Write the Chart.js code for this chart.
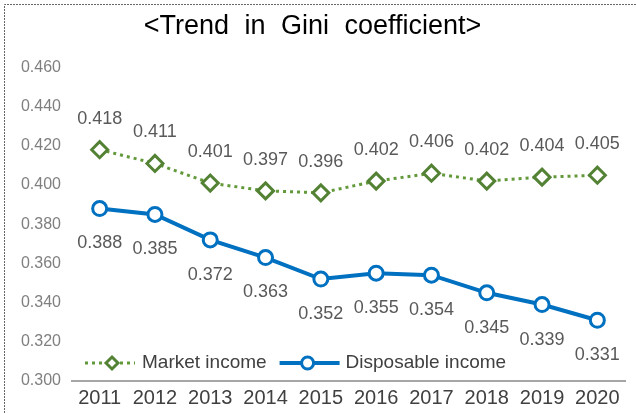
<!DOCTYPE html>
<html>
<head>
<meta charset="utf-8">
<script src="https://cdn.jsdelivr.net/npm/chart.js@4"></script>
<style>
  html, body { margin: 0; padding: 0; background: #fff; }
  #wrap { position: relative; width: 636px; height: 413px; }
</style>
</head>
<body>
<div id="wrap"><canvas id="gini" width="636" height="413"></canvas></div>
<script>
// ----- data -----
const years = ['2011', '2012', '2013', '2014', '2015', '2016', '2017', '2018', '2019', '2020'];
const marketIncome = [0.418, 0.411, 0.401, 0.397, 0.396, 0.402, 0.406, 0.402, 0.404, 0.405];
const disposableIncome = [0.388, 0.385, 0.372, 0.363, 0.352, 0.355, 0.354, 0.345, 0.339, 0.331];
const seriesNames = ['Market income', 'Disposable income'];
const yMin = 0.300, yMax = 0.460, yStep = 0.020;
const chartTitle = '<Trend in Gini coefficient>';

const GREEN = '#548235';
const GREEN_LINE = '#62993A';
const BLUE = '#0070C0';
const FONT = "'Liberation Sans', Arial, sans-serif";
const DOTS = [3, 4];

// dotted frame around the picture (top and left edges)
const framePlugin = {
    id: 'frame',
    beforeDraw(chart) {
        const ctx = chart.ctx;
        ctx.save();
        ctx.strokeStyle = '#666';
        ctx.lineWidth = 1;
        ctx.setLineDash([2, 1]);
        ctx.beginPath();
        ctx.moveTo(4.5, chart.height);
        ctx.lineTo(4.5, 4.5);
        ctx.lineTo(chart.width, 4.5);
        ctx.stroke();
        ctx.restore();
        // wide gaps between words in the title
        ctx.wordSpacing = '8px';
    },
    afterDraw(chart) {
        chart.ctx.wordSpacing = '0px';
    }
};

// value labels: above the market line, below the disposable line
const valueLabels = {
    id: 'valueLabels',
    afterDatasetsDraw(chart) {
        const ctx = chart.ctx;
        ctx.save();
        ctx.wordSpacing = '0px';
        ctx.font = '18px ' + FONT;
        ctx.fillStyle = '#595959';
        ctx.textAlign = 'center';
        ctx.textBaseline = 'middle';
        chart.data.datasets.forEach((ds, i) => {
            const meta = chart.getDatasetMeta(i);
            const dy = i === 0 ? -31 : 35;
            meta.data.forEach((pt, j) => {
                ctx.fillText(ds.data[j].toFixed(3), pt.x, pt.y + dy);
            });
        });
        ctx.restore();
    }
};

// legend drawn inside the plot area, line + marker style
const insideLegend = {
    id: 'insideLegend',
    afterDraw(chart) {
        const ctx = chart.ctx;
        const area = chart.chartArea;
        const y = area.bottom - 18;
        ctx.save();
        ctx.wordSpacing = '0px';
        ctx.font = '19px ' + FONT;
        ctx.textBaseline = 'middle';

        // market income
        let x = area.left + 13;
        ctx.strokeStyle = GREEN_LINE;
        ctx.lineWidth = 3;
        ctx.setLineDash(DOTS);
        ctx.beginPath();
        ctx.moveTo(x, y);
        ctx.lineTo(x + 50, y);
        ctx.stroke();
        ctx.setLineDash([]);
        drawDiamond(ctx, x + 27, y, 6);
        ctx.fillStyle = '#404040';
        ctx.fillText(seriesNames[0], x + 57, y);

        // disposable income
        x = x + 57 + ctx.measureText(seriesNames[0]).width + 13;
        ctx.strokeStyle = BLUE;
        ctx.lineWidth = 4;
        ctx.beginPath();
        ctx.moveTo(x, y);
        ctx.lineTo(x + 60, y);
        ctx.stroke();
        ctx.beginPath();
        ctx.arc(x + 28, y, 6, 0, Math.PI * 2);
        ctx.fillStyle = '#fff';
        ctx.fill();
        ctx.lineWidth = 3;
        ctx.stroke();
        ctx.fillStyle = '#404040';
        ctx.fillText(seriesNames[1], x + 66, y);
        ctx.restore();
    }
};

function drawDiamond(ctx, cx, cy, r) {
    ctx.beginPath();
    ctx.moveTo(cx, cy - r);
    ctx.lineTo(cx + r, cy);
    ctx.lineTo(cx, cy + r);
    ctx.lineTo(cx - r, cy);
    ctx.closePath();
    ctx.fillStyle = '#fff';
    ctx.fill();
    ctx.strokeStyle = GREEN;
    ctx.lineWidth = 3;
    ctx.stroke();
}

const ctx = document.getElementById('gini');

new Chart(ctx, {
    type: 'line',
    data: {
        labels: years,
        datasets: [
            {
                label: seriesNames[0],
                data: marketIncome,
                borderColor: GREEN_LINE,
                borderWidth: 3,
                borderDash: DOTS,
                pointStyle: 'rectRot',
                pointRadius: 8,
                pointBorderWidth: 3,
                pointBorderColor: GREEN,
                pointBackgroundColor: '#fff',
                tension: 0
            },
            {
                label: seriesNames[1],
                data: disposableIncome,
                borderColor: BLUE,
                borderWidth: 4,
                pointStyle: 'circle',
                pointRadius: 7,
                pointBorderWidth: 3,
                pointBorderColor: BLUE,
                pointBackgroundColor: '#fff',
                tension: 0
            }
        ]
    },
    options: {
        responsive: false,
        animation: false,
        devicePixelRatio: 1,
        layout: {
            padding: { left: 0, right: 11, top: 0, bottom: 0 }
        },
        plugins: {
            legend: { display: false },
            tooltip: { enabled: false },
            title: {
                display: true,
                text: chartTitle,
                color: '#000',
                font: { family: FONT, size: 27, weight: 'normal', lineHeight: 1.2 },
                padding: { top: 10, bottom: 25 }
            }
        },
        scales: {
            x: {
                offset: true,
                grid: { display: false, drawTicks: false },
                border: { display: true, color: '#A6A6A6', width: 2 },
                ticks: {
                    color: '#404040',
                    font: { family: FONT, size: 20 },
                    padding: 5,
                    maxRotation: 0,
                    autoSkip: false
                },
                afterFit(scale) { scale.height = 32; }
            },
            y: {
                min: yMin,
                max: yMax,
                grid: { display: false, drawTicks: false },
                border: { display: false },
                ticks: {
                    stepSize: yStep,
                    color: '#7F7F7F',
                    font: { family: FONT, size: 16 },
                    padding: 11,
                    callback: v => v.toFixed(3)
                },
                afterFit(scale) { scale.width = 72; }
            }
        }
    },
    plugins: [framePlugin, valueLabels, insideLegend]
});
</script>
</body>
</html>
